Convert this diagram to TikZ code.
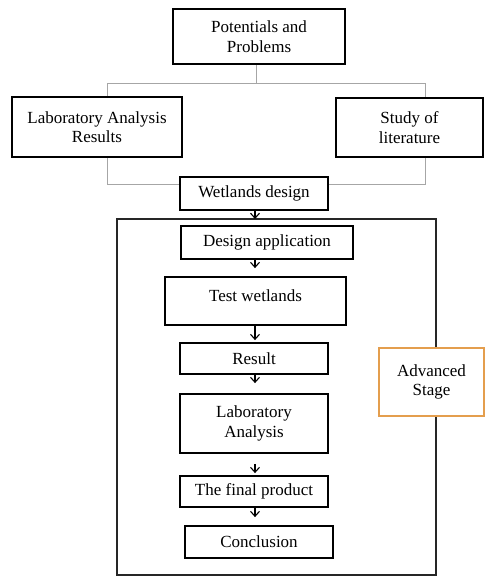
\documentclass[tikz,border=0pt]{standalone}
\usepackage{fontspec}
\setmainfont{Liberation Serif}
\usetikzlibrary{arrows.meta}
\definecolor{advorange}{RGB}{228,158,78}
\begin{document}
\begin{tikzpicture}[x=1pt,y=-1pt,
  box/.style={draw=black,line width=1.8pt,fill=white,align=center,inner sep=0pt,
    font=\fontsize{17}{19.5}\selectfont},
  conn/.style={draw=gray!70,line width=0.9pt},
  arr/.style={draw=black,line width=1.1pt,-{Straight Barb[length=5pt,width=9pt]}},
  frame/.style={draw=black!85,line width=1.1pt},
  advbox/.style={draw=advorange,line width=2.8pt,fill=white,align=center,inner sep=0pt,
    font=\fontsize{17}{19.5}\selectfont}]
\useasboundingbox (0,0) rectangle (485,577);
% big frame
\draw[frame] (117,219) rectangle (436,575);
% top part
\node[box,minimum width=172pt,minimum height=55pt] (top) at (259,36.5) {Potentials and\\Problems};
\node[box,minimum width=170pt,minimum height=60pt] (lab) at (97,127) {Laboratory Analysis\\Results};
\node[box,minimum width=147pt,minimum height=59pt] (study) at (409.5,127.5) {Study of\\literature};
\node[box,minimum width=148pt,minimum height=33pt] (wet) at (254,193.5) {Wetlands design};
% inner steps
\node[box,minimum width=172pt,minimum height=33pt] (design) at (267,242.5) {Design application};
\node[box,minimum width=181pt,minimum height=48pt,text depth=10pt] (test) at (255.5,301) {Test wetlands};
\node[box,minimum width=148pt,minimum height=31pt] (result) at (254,358.5) {Result};
\node[box,minimum width=148pt,minimum height=59pt] (labA) at (254,423.5) {Laboratory\\Analysis};
\node[box,minimum width=148pt,minimum height=31pt] (final) at (254,491.5) {The final product};
\node[box,minimum width=148pt,minimum height=32pt] (concl) at (259,542) {Conclusion};
\node[advbox,minimum width=105pt,minimum height=68pt] (adv) at (431.5,382) {Advanced\\Stage};
% gray connectors
\coordinate (split) at (256,83);
\coordinate (joinL) at (107,184);
\coordinate (joinR) at (425,184);
\draw[conn] (top.south -| split) -- (split);
\draw[conn] (lab.north -| joinL) -- (joinL |- split) -- (joinR |- split) -- (study.north -| joinR);
\draw[conn] (lab.south -| joinL) -- (joinL) -- (joinL -| wet.west);
\draw[conn] (study.south -| joinR) -- (joinR) -- (joinR -| wet.east);
% arrows
\coordinate (frametop) at (255,219);
\draw[arr] (wet.south -| frametop) -- (frametop);
\draw[arr,shorten >=8pt] (design.south -| frametop) -- (test.north -| frametop);
\draw[arr,shorten >=2pt] (test.south -| frametop) -- (result.north -| frametop);
\draw[arr,shorten >=10pt] (result.south -| frametop) -- (labA.north -| frametop);
\draw[arr,shorten <=10pt,shorten >=2pt] (labA.south -| frametop) -- (final.north -| frametop);
\draw[arr,shorten >=8pt] (final.south -| frametop) -- (concl.north -| frametop);
\end{tikzpicture}
\end{document}
